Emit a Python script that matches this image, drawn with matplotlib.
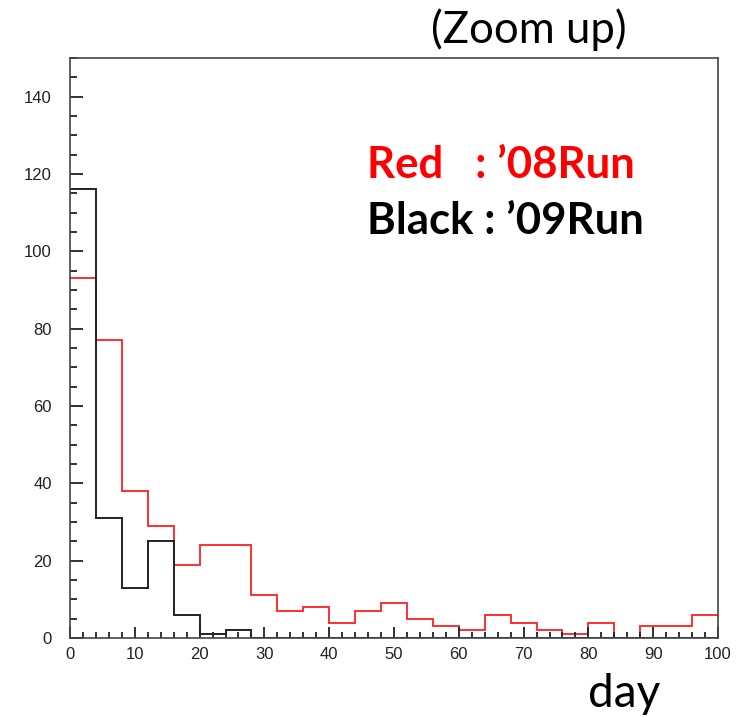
import numpy as np
import matplotlib
matplotlib.use("Agg")
import matplotlib.pyplot as plt
from matplotlib.ticker import MultipleLocator

# bin edges: 4-day bins from 0 to 100
edges = np.arange(0, 104, 4)

# '08 run (red) counts per bin
run08 = [93, 77, 38, 29, 19, 24, 24, 11, 7, 8, 4, 7, 9, 5, 3, 2,
         6, 4, 2, 1, 4, 0, 3, 3, 6]
# '09 run (black) counts per bin
run09 = [116, 31, 13, 25, 6, 1, 2, 0, 0, 0, 0, 0, 0, 0, 0, 0,
         0, 0, 0, 0, 0, 0, 0, 0, 0]

fig = plt.figure(figsize=(7.37, 7.17), dpi=100)
ax = fig.add_axes([70/737, 1 - 638/717, (718-70)/737, (638-58)/717])

ax.stairs(run08, edges, color="#ff3030", lw=1.4, baseline=None)
ax.stairs(run09, edges, color="#222222", lw=1.4, baseline=None)

ax.set_xlim(0, 100)
ax.set_ylim(0, 150)

ax.xaxis.set_major_locator(MultipleLocator(10))
ax.xaxis.set_minor_locator(MultipleLocator(2))
ax.yaxis.set_major_locator(MultipleLocator(20))
ax.yaxis.set_minor_locator(MultipleLocator(5))
ax.tick_params(axis="both", which="both", direction="in", top=False, right=False,
               colors="#222222", labelcolor="#222222", labelsize=12, width=1.3)
ax.tick_params(axis="y", which="major", length=9.4, pad=13)
ax.tick_params(axis="y", which="minor", length=5)
ax.tick_params(axis="x", which="major", length=8, pad=6.5)
ax.tick_params(axis="x", which="minor", length=4)
for lab in ax.get_xticklabels() + ax.get_yticklabels():
    lab.set_family("Liberation Sans")
for s in ax.spines.values():
    s.set_color("#444444")
    s.set_linewidth(1.2)

fig.text(529/737, 1 - 30/717, "(Zoom up)", fontsize=31.5, family="Lato",
         ha="center", va="center")
fig.text(367/737, 1 - 178/717, "Red   : \u201908Run", fontsize=31.5, family="Lato",
         weight="bold", color="#ff0000", ha="left", va="baseline")
fig.text(367/737, 1 - 234/717, "Black : \u201909Run", fontsize=31.5, family="Lato",
         weight="bold", color="black", ha="left", va="baseline")
fig.text(624/737, 1 - 707/717, "day", fontsize=33, family="Lato",
         ha="center", va="baseline")

fig.savefig("out.png", dpi=100)
